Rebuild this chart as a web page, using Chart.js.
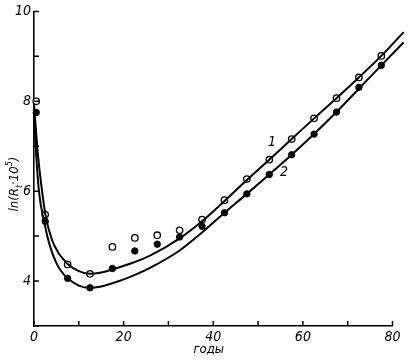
<!DOCTYPE html>
<html>
<head>
<meta charset="utf-8">
<script src="https://cdn.jsdelivr.net/npm/chart.js@4/dist/chart.umd.min.js"></script>
<style>
html,body{margin:0;padding:0;background:#fff;}
#wrap{width:410px;height:361px;position:relative;}
</style>
</head>
<body>
<div id="wrap"><canvas id="c" width="410" height="361"></canvas></div>
<script>
// observed points (years, ln(Rt*10^5))
const years = [0.5, 2.5, 7.5, 12.5, 17.5, 22.5, 27.5, 32.5, 37.5, 42.5, 47.5, 52.5, 57.5, 62.5, 67.5, 72.5, 77.5, 82.5];
const series1 = [8.0, 5.48, 4.37, 4.16, 4.76, 4.96, 5.02, 5.13, 5.37, 5.8, 6.27, 6.7, 7.16, 7.62, 8.07, 8.53, 9.01, 9.54];
const series2 = [7.75, 5.33, 4.06, 3.85, 4.28, 4.67, 4.82, 4.98, 5.22, 5.52, 5.94, 6.37, 6.81, 7.27, 7.76, 8.31, 8.8, 9.31];
// fitted curves
const curveX1 = [0, 0.8, 1.8, 2.6, 4, 5.5, 6.5, 7.5, 10, 12.5, 15, 17.5, 21.6, 26, 32.5, 37.5, 42.5, 47.5, 52.5, 57.5, 62.5, 67.5, 72.5, 77.5, 82.5];
const curveY1 = [7.95, 6.9, 6.0, 5.45, 4.92, 4.62, 4.49, 4.38, 4.22, 4.16, 4.19, 4.26, 4.39, 4.57, 4.95, 5.33, 5.78, 6.25, 6.7, 7.16, 7.62, 8.07, 8.53, 9.01, 9.54];
const curveX2 = [0, 0.5, 1.1, 2.3, 3.5, 5, 6, 7.5, 10, 12.5, 15, 17.5, 21.6, 26, 32.5, 37.5, 42.5, 47.5, 52.5, 57.5, 62.5, 67.5, 72.5, 77.5, 82.5];
const curveY2 = [7.7, 6.8, 6.0, 5.3, 4.8, 4.4, 4.23, 4.06, 3.9, 3.85, 3.88, 3.95, 4.1, 4.3, 4.68, 5.08, 5.52, 5.94, 6.37, 6.81, 7.27, 7.76, 8.28, 8.8, 9.31];
// axis ticks
const xTicks = [0, 10, 20, 30, 40, 50, 60, 70, 80];
const xLabels = ['0', '', '20', '', '40', '', '60', '', '80'];
const yTicks = [3, 4, 5, 6, 7, 8, 9, 10];
const yLabels = ['', '4', '', '6', '', '8', '', '10'];
const curveLabels = [{text: '1', x: 53.1, y: 7.08}, {text: '2', x: 55.8, y: 6.41}];
const xTitle = 'годы';

const FONT = "'Liberation Sans Narrow', 'DejaVu Sans Condensed', 'Liberation Sans', sans-serif";

const pts = (xs, ys) => xs.map((x, i) => ({x: x, y: ys[i]}));

const decor = {
  id: 'decor',
  afterDraw(chart) {
    const ctx = chart.ctx;
    const xs = chart.scales.x, ys = chart.scales.y;
    const a = chart.chartArea;
    ctx.save();
    ctx.strokeStyle = '#000';
    ctx.lineWidth = 1.5;
    ctx.beginPath();
    xTicks.forEach(v => {
      const p = xs.getPixelForValue(v);
      ctx.moveTo(p, a.bottom); ctx.lineTo(p, a.bottom - 5);
    });
    yTicks.forEach(v => {
      const p = ys.getPixelForValue(v);
      ctx.moveTo(a.left, p); ctx.lineTo(a.left + 5, p);
    });
    ctx.stroke();
    ctx.fillStyle = '#000';
    ctx.font = "italic 14px " + FONT;
    ctx.textAlign = 'center';
    ctx.textBaseline = 'middle';
    curveLabels.forEach(l => {
      ctx.fillText(l.text, xs.getPixelForValue(l.x), ys.getPixelForValue(l.y));
    });
    // x title
    ctx.font = "italic 13px " + FONT;
    ctx.fillText(xTitle, xs.getPixelForValue(39), 350);
    // y title: ln(R_t·10^5)
    ctx.translate(14, 184);
    ctx.rotate(-Math.PI / 2);
    const parts = [
      {t: 'ln(R', s: 13, dy: 0},
      {t: 't', s: 9, dy: 4},
      {t: '·10', s: 13, dy: 0},
      {t: '5', s: 9, dy: -6},
      {t: ')', s: 13, dy: 0}
    ];
    let w = 0;
    parts.forEach(p => { ctx.font = "italic " + p.s + "px " + FONT; p.w = ctx.measureText(p.t).width; w += p.w; });
    let cx = -w / 2;
    ctx.textAlign = 'left';
    ctx.textBaseline = 'alphabetic';
    parts.forEach(p => {
      ctx.font = "italic " + p.s + "px " + FONT;
      ctx.fillText(p.t, cx, 4 + p.dy);
      cx += p.w;
    });
    ctx.restore();
  }
};

new Chart(document.getElementById('c'), {
  type: 'scatter',
  data: {
    datasets: [
      {data: pts(curveX1, curveY1), showLine: true, borderColor: '#000', borderWidth: 2, pointRadius: 0, cubicInterpolationMode: 'monotone', clip: false},
      {data: pts(curveX2, curveY2), showLine: true, borderColor: '#000', borderWidth: 2, pointRadius: 0, cubicInterpolationMode: 'monotone', clip: false},
      {data: pts(years, series1), showLine: false, pointRadius: 3.2, pointBackgroundColor: '#fff', pointBorderColor: '#000', pointBorderWidth: 1.3, clip: false},
      {data: pts(years, series2), showLine: false, pointRadius: 3.2, pointBackgroundColor: '#000', pointBorderColor: '#000', pointBorderWidth: 1, clip: false}
    ]
  },
  options: {
    responsive: false,
    animation: false,
    events: [],
    layout: {padding: {top: 9, right: 17.5, left: 0, bottom: 0}},
    plugins: {legend: {display: false}, tooltip: {enabled: false}},
    scales: {
      x: {
        type: 'linear', min: 0, max: 80,
        afterFit: s => { s.height = 35; },
        afterBuildTicks: s => { s.ticks = xTicks.map(v => ({value: v})); },
        grid: {display: false, drawTicks: false, tickLength: 0},
        border: {display: true, color: '#000', width: 1.6},
        ticks: {color: '#000', padding: 3, maxRotation: 0, autoSkip: false,
          font: {family: FONT, size: 14, style: 'italic'},
          callback: (v) => { const i = xTicks.indexOf(v); return i >= 0 ? xLabels[i] : ''; }}
      },
      y: {
        type: 'linear', min: 3, max: 10,
        afterFit: s => { s.width = 34; },
        afterBuildTicks: s => { s.ticks = yTicks.map(v => ({value: v})); },
        grid: {display: false, drawTicks: false, tickLength: 0},
        border: {display: true, color: '#000', width: 1.6},
        ticks: {color: '#000', padding: 3, autoSkip: false,
          font: {family: FONT, size: 14, style: 'italic'},
          callback: (v) => { const i = yTicks.indexOf(v); return i >= 0 ? yLabels[i] : ''; }}
      }
    }
  },
  plugins: [decor]
});
</script>
</body>
</html>
